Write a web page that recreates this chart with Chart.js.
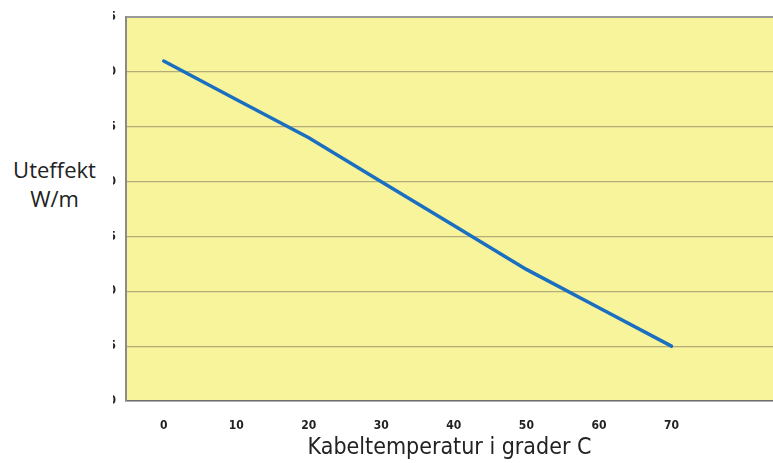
<!DOCTYPE html>
<html lang="no">
<head>
<meta charset="UTF-8">
<title>Uteffekt mot kabeltemperatur</title>
<script src="https://cdn.jsdelivr.net/npm/chart.js"></script>
<style>
  html, body { margin: 0; padding: 0; background: #fff; }
  .wrap { position: relative; width: 773px; height: 463px; }
  canvas { display: block; }
  /* y-aksetittel; den hvite boksen kutter tallene på y-aksen slik som i originalen */
  .ytitle {
    position: absolute; left: 0; top: 0; width: 113px; height: 420px;
    background: #fff;
    font-family: 'Open Sans', sans-serif; font-size: 22px; color: #222;
    text-align: center; line-height: 29px;
  }
  .ytitle div { position: absolute; top: 155px; left: -2px; width: 113px; }
</style>
</head>
<body>
<div class="wrap">
  <canvas id="c" width="773" height="463"></canvas>
  <div class="ytitle"><div>Uteffekt<br>W/m</div></div>
</div>
<script>
const temps = [0, 10, 20, 30, 40, 50, 60, 70];
const effekt = [31, 27.5, 24, 20, 16, 12, 8.5, 5];
const xTicks = [0, 10, 20, 30, 40, 50, 60, 70];
const yTicks = [0, 5, 10, 15, 20, 25, 30, 35];

const plotBg = {
  id: 'plotBg',
  beforeDraw(chart) {
    const { ctx, chartArea: a } = chart;
    ctx.save();
    ctx.fillStyle = '#f8f49c';
    ctx.fillRect(a.left, a.top, a.right - a.left, a.bottom - a.top);
    ctx.restore();
  }
};

const narrow = "'Liberation Sans Narrow', 'DejaVu Sans Condensed', sans-serif";

new Chart(document.getElementById('c'), {
  type: 'line',
  data: {
    datasets: [{
      data: temps.map((t, i) => ({ x: t, y: effekt[i] })),
      borderColor: '#1a6fc1',
      borderWidth: 3.5,
      pointRadius: 0,
      tension: 0,
      borderCapStyle: 'round'
    }]
  },
  options: {
    responsive: false,
    animation: false,
    layout: { padding: { top: 15, left: 0, right: 0, bottom: 0 } },
    plugins: { legend: { display: false }, tooltip: { enabled: false } },
    scales: {
      x: {
        type: 'linear',
        min: -5.2,
        max: 84,
        afterBuildTicks: s => { s.ticks = xTicks.map(v => ({ value: v })); },
        afterFit: s => { s.height = 62; },
        grid: { display: false },
        border: { display: true, color: '#6f6f6f', width: 1.5 },
        ticks: {
          color: '#222', padding: 10,
          font: { family: narrow, size: 12, weight: 'bold' }
        },
        title: {
          display: true,
          text: 'Kabeltemperatur i grader C',
          color: '#222',
          font: { family: "'DejaVu Sans Condensed', sans-serif", size: 23 },
          padding: { top: 0, bottom: 1 }
        }
      },
      y: {
        min: 0,
        max: 35,
        afterBuildTicks: s => { s.ticks = yTicks.map(v => ({ value: v })); },
        afterFit: s => { s.width = 126; },
        grid: {
          drawTicks: false,
          color: c => c.tick && c.tick.value === 35 ? '#9a9a9a' : '#b3ab78',
          lineWidth: c => c.tick && c.tick.value === 35 ? 2 : 1.3
        },
        border: { display: true, color: '#8a8a8a', width: 2 },
        ticks: {
          color: '#222', padding: 10,
          font: { family: narrow, size: 12, weight: 'bold' }
        }
      }
    }
  },
  plugins: [plotBg]
});
</script>
</body>
</html>
